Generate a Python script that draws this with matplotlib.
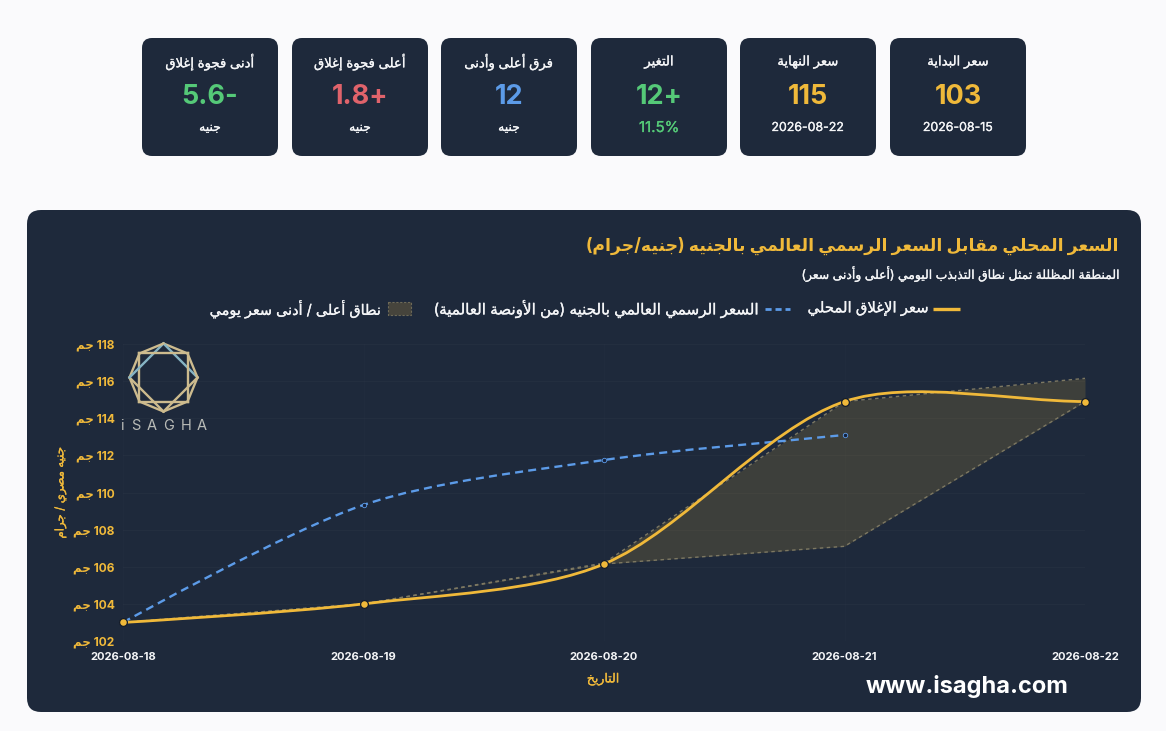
import re
import numpy as np
import matplotlib
matplotlib.use("Agg")
import matplotlib.pyplot as plt
import matplotlib.patheffects as pe
from matplotlib.lines import Line2D
from matplotlib.patches import FancyBboxPatch, PathPatch, Rectangle
from matplotlib.path import Path

plt.rcParams['font.family'] = ['Inter', 'DejaVu Sans']

# Chart data
dates = ["2026-08-18", "2026-08-19", "2026-08-20", "2026-08-21", "2026-08-22"]
close_price = [103.0, 104.0, 106.15, 114.9, 114.9]
world_price = [103.0, 109.33, 111.75, 113.1]
day_high = [103.0, 104.0, 106.2, 114.9, 116.15]
day_low = [103.0, 104.0, 106.15, 107.1, 114.9]
y_ticks = [102, 104, 106, 108, 110, 112, 114, 116, 118]

# Summary cards, left to right
card_titles = ["أدنى فجوة إغلاق", "أعلى فجوة إغلاق", "فرق أعلى وأدنى", "التغير", "سعر النهاية", "سعر البداية"]
card_values = ["5.6-", "1.8+", "12", "12+", "115", "103"]
card_subs = ["جنيه", "جنيه", "جنيه", "11.5%", "2026-08-22", "2026-08-15"]

BG = "#fafafc"
PANEL = "#1e293b"
GOLD = "#f0b93a"
BLUE = "#5c9be8"
GREEN = "#55c978"
RED = "#e0636b"
WHITE = "#f4f5f7"
card_colors = [GREEN, RED, BLUE, GREEN, GOLD, GOLD]
sub_colors = [WHITE, WHITE, WHITE, GREEN, WHITE, WHITE]
card_lefts = [142, 292, 441, 591, 740, 890]

# Arabic shaping: matplotlib has no bidi or joining, so map letters to
# presentation forms (isolated, final, initial, medial) and reverse by hand
FORMS = {
    'ء': 'ﺀ', 'آ': 'ﺁﺂ', 'أ': 'ﺃﺄ', 'إ': 'ﺇﺈ', 'ا': 'ﺍﺎ', 'ب': 'ﺏﺐﺑﺒ', 'ة': 'ﺓﺔ', 'ت': 'ﺕﺖﺗﺘ',
    'ث': 'ﺙﺚﺛﺜ', 'ج': 'ﺝﺞﺟﺠ', 'ح': 'ﺡﺢﺣﺤ', 'خ': 'ﺥﺦﺧﺨ', 'د': 'ﺩﺪ', 'ذ': 'ﺫﺬ', 'ر': 'ﺭﺮ', 'ز': 'ﺯﺰ',
    'س': 'ﺱﺲﺳﺴ', 'ش': 'ﺵﺶﺷﺸ', 'ص': 'ﺹﺺﺻﺼ', 'ض': 'ﺽﺾﺿﻀ', 'ط': 'ﻁﻂﻃﻄ', 'ظ': 'ﻅﻆﻇﻈ', 'ع': 'ﻉﻊﻋﻌ',
    'غ': 'ﻍﻎﻏﻐ', 'ف': 'ﻑﻒﻓﻔ', 'ق': 'ﻕﻖﻗﻘ', 'ك': 'ﻙﻚﻛﻜ', 'ل': 'ﻝﻞﻟﻠ', 'م': 'ﻡﻢﻣﻤ', 'ن': 'ﻥﻦﻧﻨ',
    'ه': 'ﻩﻪﻫﻬ', 'و': 'ﻭﻮ', 'ى': 'ﻯﻰ', 'ي': 'ﻱﻲﻳﻴ',
}
LAM_ALEF = {'ا': 'ﻻﻼ', 'أ': 'ﻷﻸ', 'إ': 'ﻹﻺ', 'آ': 'ﻵﻶ'}
MIRROR = {'(': ')', ')': '('}


def joins_next(ch):
    return ch in FORMS and len(FORMS[ch]) == 4


def ar(text):
    # plain numbers and dates stay as they are
    if not re.search('[\u0600-\u06ff]', text):
        return text
    out = []
    i = 0
    while i < len(text):
        ch = text[i]
        prev = text[i - 1] if i > 0 else ''
        joined = joins_next(prev)
        if ch == 'ل' and i + 1 < len(text) and text[i + 1] in LAM_ALEF:
            out.append(LAM_ALEF[text[i + 1]][1 if joined else 0])
            i += 2
            continue
        if ch in FORMS:
            forms = FORMS[ch]
            nxt = text[i + 1] if i + 1 < len(text) else ''
            if len(forms) == 4 and nxt in FORMS:
                out.append(forms[3] if joined else forms[2])
            else:
                out.append(forms[1] if joined and len(forms) > 1 else forms[0])
        else:
            out.append(MIRROR.get(ch, ch))
        i += 1
    return ''.join(reversed(out))


def smooth_path(ys, sx, sy, tension=0.3):
    # same cubic control points a canvas chart uses, worked out in pixel space
    pts = np.column_stack([np.arange(len(ys)) * sx, np.array(ys) * sy])
    verts = [pts[0]]
    codes = [Path.MOVETO]
    ctrl_next = pts[0]
    for i in range(1, len(pts)):
        cur = pts[i]
        nxt = pts[min(i + 1, len(pts) - 1)]
        prv = pts[i - 1]
        d01 = np.hypot(*(cur - prv))
        d12 = np.hypot(*(nxt - cur))
        s01 = d01 / (d01 + d12) if d01 + d12 else 0
        ctrl_prev = cur - tension * s01 * (nxt - prv)
        verts += [ctrl_next, ctrl_prev, cur]
        codes += [Path.CURVE4] * 3
        s12 = d12 / (d01 + d12) if d01 + d12 else 0
        ctrl_next = cur + tension * s12 * (nxt - prv)
    return Path(np.array(verts) / [sx, sy], codes)


fig = plt.figure(figsize=(11.66, 7.31), dpi=100, facecolor=BG)

# Pixel-space layer for cards, panel and titles
page = fig.add_axes([0, 0, 1, 1])
page.set_xlim(0, 1166)
page.set_ylim(731, 0)
page.axis('off')


def rounded(ax, x0, y0, x1, y1, r, color):
    ax.add_patch(FancyBboxPatch((x0 + r, y0 + r), x1 - x0 - 2 * r, y1 - y0 - 2 * r,
                                boxstyle=f"round,pad={r},rounding_size={r}",
                                fc=color, ec='none'))


def medium(t, width=0.2):
    # DejaVu regular looks thin next to the reference text, thicken it a little
    t.set_path_effects([pe.withStroke(linewidth=width, foreground=t.get_color())])
    return t


for i, left in enumerate(card_lefts):
    rounded(page, left, 38, left + 136, 156, 10, PANEL)
    cx = left + 68
    medium(page.text(cx, 62, ar(card_titles[i]), color=WHITE, fontsize=9.5, ha='center', va='center'))
    page.text(cx, 97, card_values[i], color=card_colors[i], fontsize=19.5, fontweight='bold',
              ha='center', va='center')
    medium(page.text(cx, 128, ar(card_subs[i]), color=sub_colors[i], fontsize=10.8 if i == 3 else 8.9,
                     ha='center', va='center'))

rounded(page, 27, 210, 1141, 712, 14, PANEL)

page.text(1119, 246, ar("السعر المحلي مقابل السعر الرسمي العالمي بالجنيه (جنيه/جرام)"),
          color=GOLD, fontsize=12.4, fontweight='bold', ha='right', va='center')
medium(page.text(1119, 274, ar("المنطقة المظللة تمثل نطاق التذبذب اليومي (أعلى وأدنى سعر)"),
                 color=WHITE, fontsize=8.9, ha='right', va='center'))

# Legend, built by hand to keep the right-to-left order
page.add_line(Line2D([933, 960], [309, 309], color=GOLD, lw=2.4, solid_capstyle='butt'))
medium(page.text(929, 309, ar("سعر الإغلاق المحلي"), color=WHITE, fontsize=10.7, ha='right', va='center'))
page.add_line(Line2D([765, 790], [309, 309], color=BLUE, lw=2, ls=(0, (2.2, 1.4))))
medium(page.text(758, 309, ar("السعر الرسمي العالمي بالجنيه (من الأونصة العالمية)"), color=WHITE,
                 fontsize=10.9, ha='right', va='center'))
page.add_patch(Rectangle((388, 302), 23, 13, fc="#46443c", ec="#6e6a58", lw=0.8, ls=(0, (2, 1.5))))
medium(page.text(380, 309, ar("نطاق أعلى / أدنى سعر يومي"), color=WHITE, fontsize=10.4, ha='right', va='center'))

# Main chart
ax = fig.add_axes([123 / 1166, 1 - 641 / 731, (1085 - 123) / 1166, (641 - 344) / 731])
ax.patch.set_alpha(0)
ax.set_xlim(0, len(dates) - 1)
ax.set_ylim(102, 118)
for s in ax.spines.values():
    s.set_visible(False)
x = np.arange(len(dates))
ax.set_xticks(x)
ax.set_xticklabels(dates, color=WHITE, fontsize=8, fontweight='bold')
ax.set_yticks(y_ticks)
ax.set_yticklabels([f"{ar('جم')} {v}" for v in y_ticks], color=GOLD, fontsize=8.6, fontweight='bold')
ax.tick_params(axis='y', length=0, pad=6)
ax.tick_params(axis='x', length=0, pad=8)
ax.grid(True, axis='y', color="#ffffff", alpha=0.025, lw=0.8)
ax.grid(True, axis='x', color="#ffffff", alpha=0.012, lw=0.8)
ax.set_axisbelow(True)

ax.fill_between(x, day_low, day_high, color="#ffc83c", alpha=0.14, lw=0)
ax.plot(x, day_high, color="#7d7862", lw=1, ls=(0, (2.5, 2.5)))
ax.plot(x, day_low, color="#7d7862", lw=1, ls=(0, (2.5, 2.5)))

sx = 962 / (len(dates) - 1)
sy = 297 / 16
ax.add_patch(PathPatch(smooth_path(world_price, sx, sy), fc='none', ec=BLUE, lw=1.7,
                       ls=(0, (3.4, 2.2)), zorder=3))
ax.plot(x[:len(world_price)], world_price, ls='none', marker='o', ms=3.2, mfc="#14203a", mec=BLUE,
        mew=0.6, clip_on=False, zorder=4)
ax.add_patch(PathPatch(smooth_path(close_price, sx, sy), fc='none', ec=GOLD, lw=2.0,
                       zorder=5, capstyle='round'))
ax.plot(x, close_price, ls='none', marker='o', ms=5.6, mfc=GOLD, mec="#141c2a", mew=0.9,
        clip_on=False, zorder=6)

medium(page.text(603, 679, ar("التاريخ"), color=GOLD, fontsize=9, ha='center', va='center'))
medium(page.text(60, 493, ar("جنيه مصري / جرام"), color=GOLD, fontsize=8.5, rotation=90,
                 ha='center', va='center'))

# Logo
cx, cy, rad = 163.5, 377.5, 34
angles = np.deg2rad(np.arange(0, 360, 45) - 90)
px = cx + rad * np.cos(angles)
py = cy + rad * np.sin(angles)
logo = "#cdbb8e"
logo_lw = 1.7
for i in range(8):
    j = (i + 1) % 8
    page.add_line(Line2D([px[i], px[j]], [py[i], py[j]], color=logo, lw=logo_lw))
    k = (i + 2) % 8
    tint = "#86b4c4" if i in (0, 6) else logo
    page.add_line(Line2D([px[i], px[k]], [py[i], py[k]], color=tint, lw=logo_lw))
for letter, lx in zip("iSAGHA", [122, 136, 152, 169, 186, 202]):
    page.text(lx, 426, letter, color="#b9bbb7", fontsize=10.5, ha='center', va='center')

page.text(967, 687, "www.isagha.com", color="#ffffff", fontsize=17, fontweight='bold',
          ha='center', va='center')

fig.savefig("out.png", dpi=100, facecolor=BG)
